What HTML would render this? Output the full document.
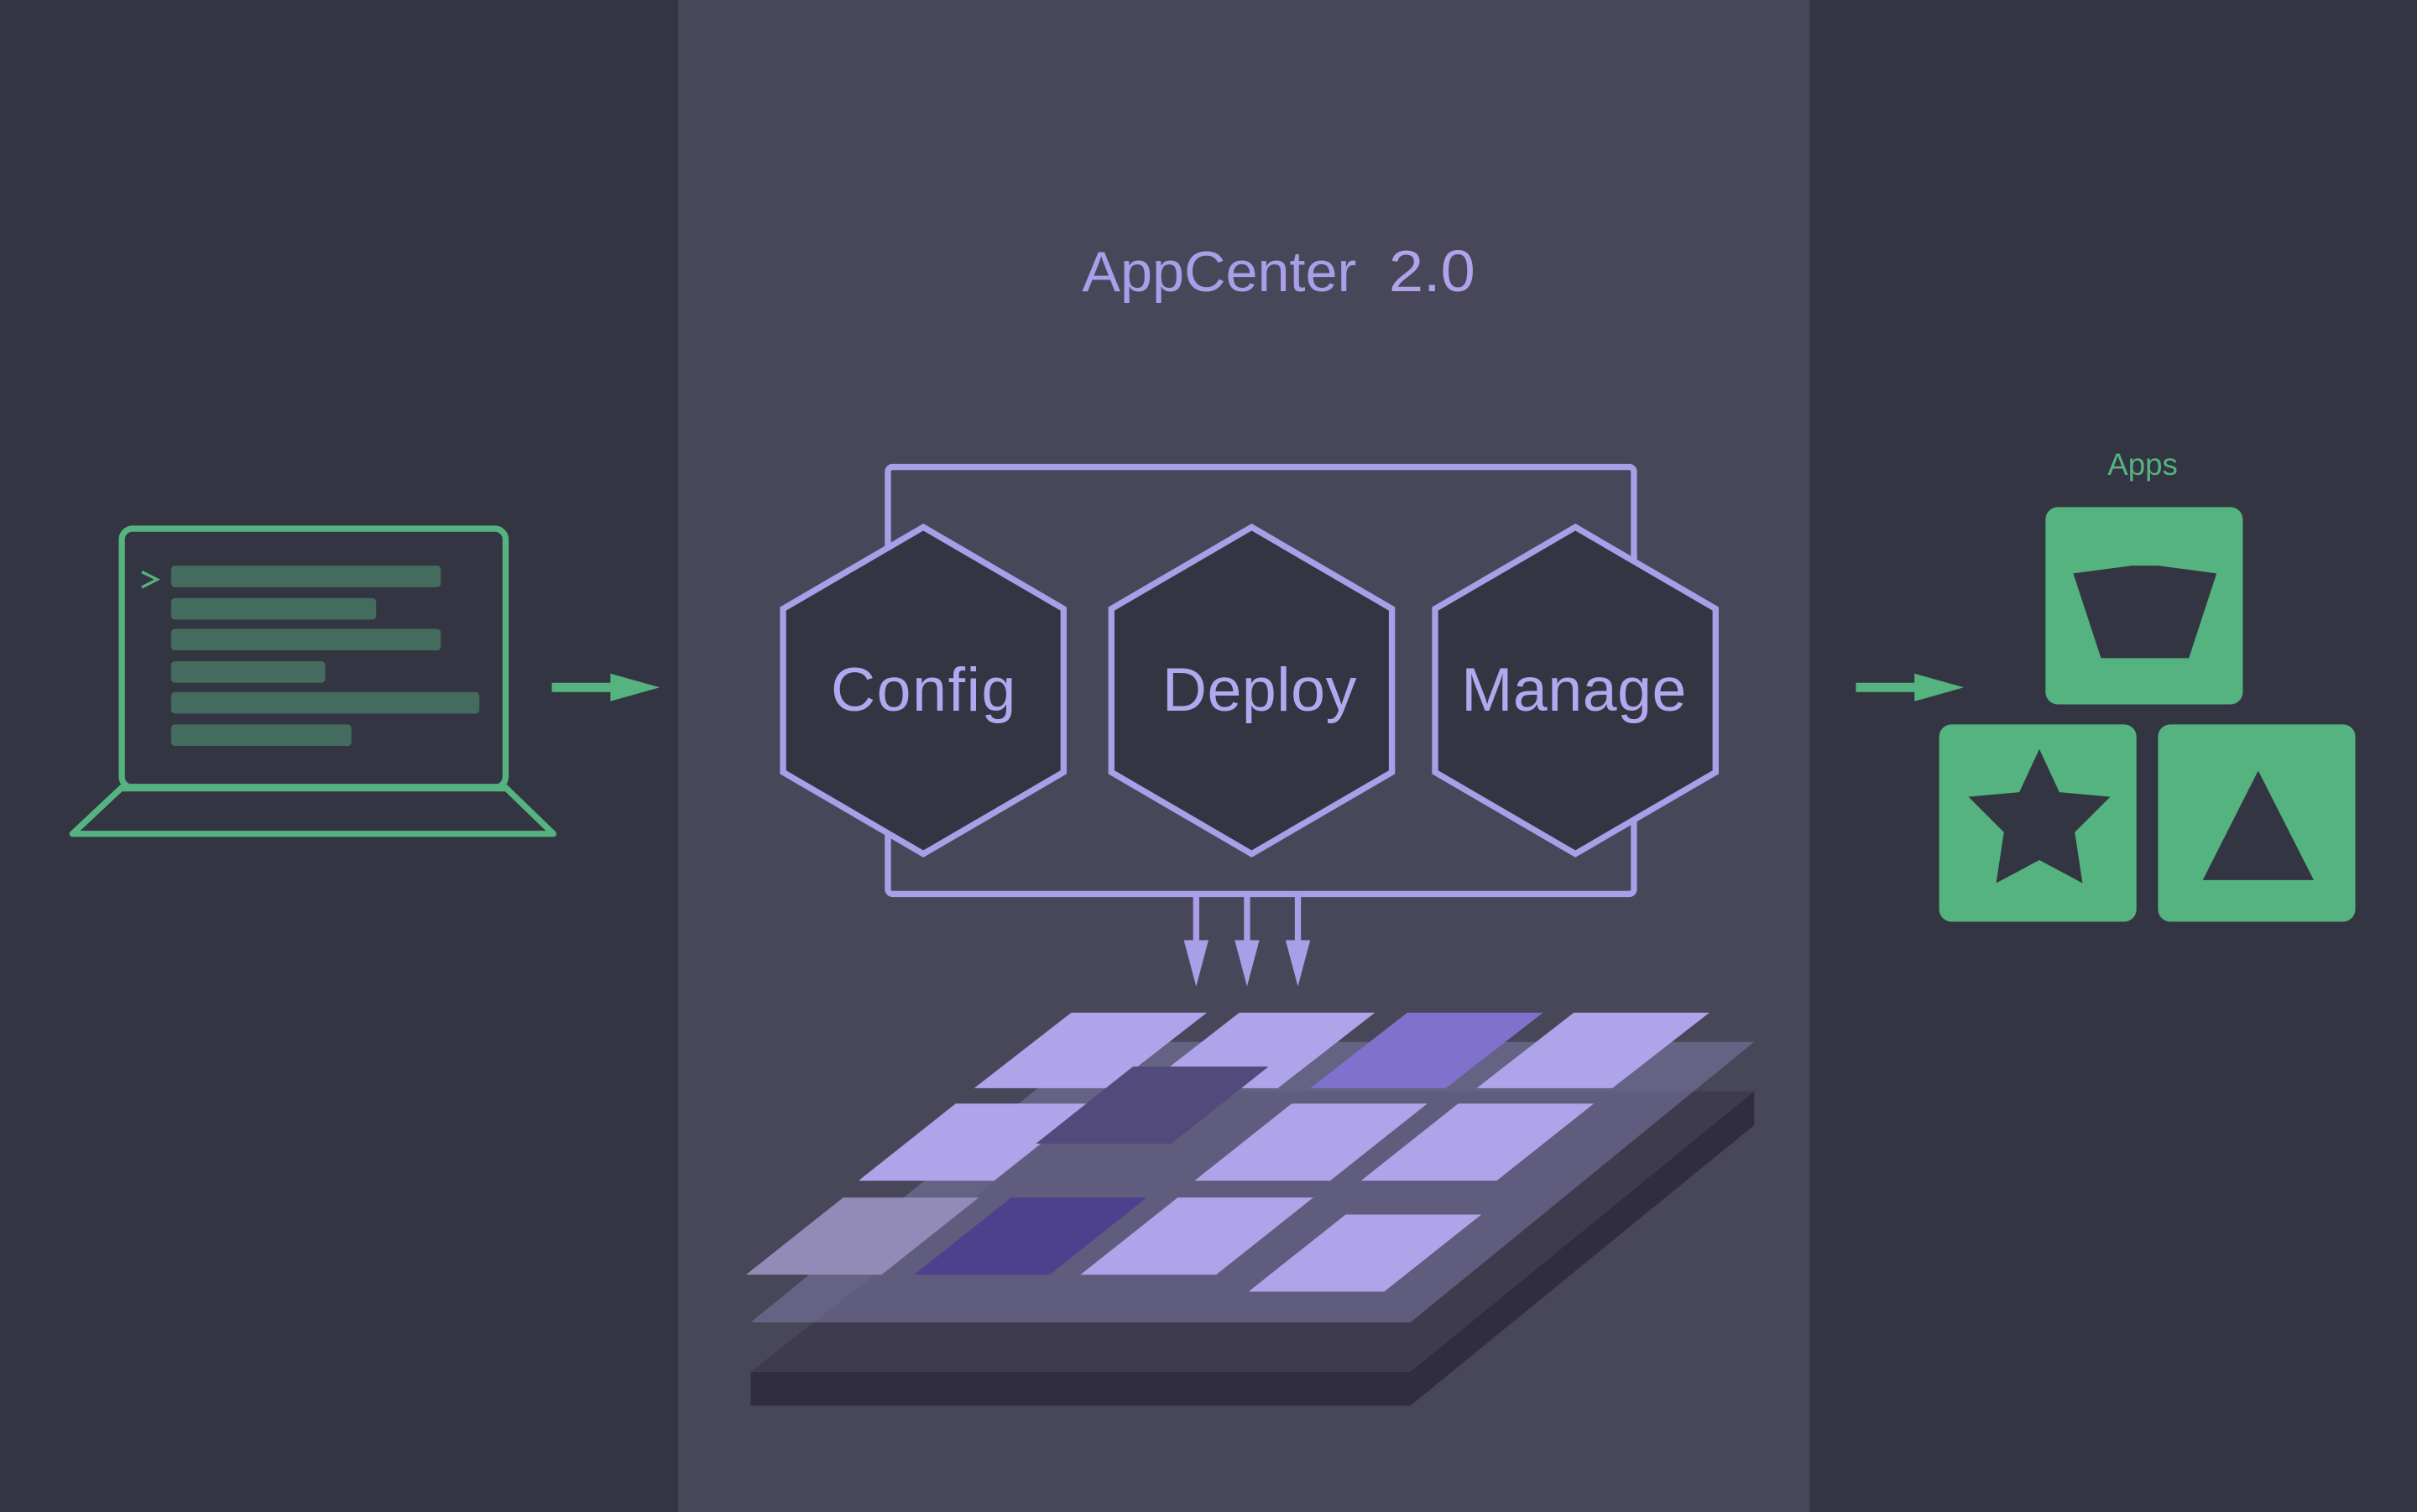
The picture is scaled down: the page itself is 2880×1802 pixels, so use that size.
<!DOCTYPE html>
<html><head><meta charset="utf-8"><style>
html,body{margin:0;padding:0;background:#343542;}
svg{display:block;}
</style></head><body>
<svg width="2880" height="1802" viewBox="0 0 1568 981" preserveAspectRatio="none" xmlns="http://www.w3.org/2000/svg">
<rect width="1568" height="981" fill="#343542"/>
<rect x="440" y="0" width="734" height="981" fill="#474759"/>
<text x="702" y="189" font-family="Liberation Sans, sans-serif" font-size="37" fill="#a99ee8" textLength="178" lengthAdjust="spacingAndGlyphs">AppCenter</text>
<text x="901" y="189" font-family="Liberation Sans, sans-serif" font-size="38" fill="#afa4ea" textLength="56" lengthAdjust="spacingAndGlyphs">2.0</text>

<!-- laptop -->
<rect x="79" y="343" width="249" height="168" rx="7" fill="none" stroke="#55b37f" stroke-width="4"/>
<path d="M79 511 L328 511 L359 541 L47 541 Z" fill="none" stroke="#55b37f" stroke-width="4" stroke-linejoin="round"/>
<line x1="79" y1="511" x2="328" y2="511" stroke="#55b37f" stroke-width="5"/>
<g fill="#436b5e">
<rect x="111" y="367" width="175" height="14" rx="2.5"/>
<rect x="111" y="388" width="133" height="14" rx="2.5"/>
<rect x="111" y="408" width="175" height="14" rx="2.5"/>
<rect x="111" y="429" width="100" height="14" rx="2.5"/>
<rect x="111" y="449" width="200" height="14" rx="2.5"/>
<rect x="111" y="470" width="117" height="14" rx="2.5"/>
</g>
<path d="M92 371 L102 376 L92 381" fill="none" stroke="#55b37f" stroke-width="1.8"/>
<!-- green arrows -->
<rect x="358" y="443" width="42" height="6" fill="#55b37f"/>
<path d="M396 437 L428 446 L396 455 Z" fill="#55b37f"/>
<rect x="1204" y="443" width="42" height="6" fill="#55b37f"/>
<path d="M1242 437 L1274 446 L1242 455 Z" fill="#55b37f"/>

<!-- frame -->
<rect x="576" y="303" width="484" height="277" rx="3" fill="none" stroke="#a99ee8" stroke-width="4"/>
<g fill="#343542" stroke="#a99ee8" stroke-width="4" stroke-linejoin="miter">
<path d="M599 342 L690 395 L690 501 L599 554 L508 501 L508 395 Z"/>
<path d="M812 342 L903 395 L903 501 L812 554 L721 501 L721 395 Z"/>
<path d="M1022 342 L1113 395 L1113 501 L1022 554 L931 501 L931 395 Z"/>
</g>
<g font-family="Liberation Sans, sans-serif" font-size="40" fill="#b3a8f0" lengthAdjust="spacingAndGlyphs">
<text x="539" y="461" textLength="120">Config</text>
<text x="754" y="461" textLength="126">Deploy</text>
<text x="948" y="461" textLength="146">Manage</text>
</g>
<!-- down arrows -->
<g fill="#a99ee8">
<rect x="774" y="580" width="4" height="35"/><path d="M768 610 L784 610 L776 640 Z"/>
<rect x="807" y="580" width="4" height="35"/><path d="M801 610 L817 610 L809 640 Z"/>
<rect x="840" y="580" width="4" height="35"/><path d="M834 610 L850 610 L842 640 Z"/>
</g>

<!-- platform -->
<path d="M915 890 L1138 708 L1138 730 L915 912 Z" fill="#302d40"/>
<path d="M487 890 L915 890 L915 912 L487 912 Z" fill="#302d40"/>
<path d="M720 708 L1138 708 L915 890 L487 890 Z" fill="#3e3b4f"/>
<path d="M710 676 L1138 676 L915 858 L487 858 Z" fill="#8a84b8" fill-opacity="0.45"/>
<g fill="#afa4ea">
<path d="M695 657 L783 657 L720 706 L632 706 Z"/>
<path d="M804 657 L892 657 L829 706 L741 706 Z"/>
<path d="M913 657 L1001 657 L938 706 L850 706 Z" fill="#7f71cc"/>
<path d="M1021 657 L1109 657 L1046 706 L958 706 Z"/>
<path d="M620 716 L708 716 L645 766 L557 766 Z"/>
<path d="M838 716 L926 716 L863 766 L775 766 Z"/>
<path d="M946 716 L1034 716 L971 766 L883 766 Z"/>
<path d="M547 777 L635 777 L572 827 L484 827 Z" fill="#928bb8"/>
<path d="M656 777 L744 777 L681 827 L593 827 Z" fill="#4d418e"/>
<path d="M764 777 L852 777 L789 827 L701 827 Z"/>
<path d="M873 788 L961 788 L898 838 L810 838 Z"/>
<path d="M735 692 L823 692 L760 742 L672 742 Z" fill="#524a7a"/>
</g>

<!-- apps -->
<text x="1390" y="308" text-anchor="middle" font-family="Liberation Sans, sans-serif" font-size="20" fill="#55b37f">Apps</text>
<g fill="#55b37f">
<rect x="1327" y="329" width="128" height="128" rx="8"/>
<rect x="1258" y="470" width="128" height="128" rx="8"/>
<rect x="1400" y="470" width="128" height="128" rx="8"/>
</g>
<g fill="#343542">
<path d="M1345 372 L1383 367 L1400 367 L1438 372 L1420 427 L1363 427 Z"/>
<path d="M1323 486 L1336 514 L1369 517 L1346 540 L1351 573 L1323 558 L1295 573 L1300 540 L1277 517 L1310 514 Z"/>
<path d="M1465 500 L1501 571 L1429 571 Z"/>
</g>
</svg>
</body></html>
